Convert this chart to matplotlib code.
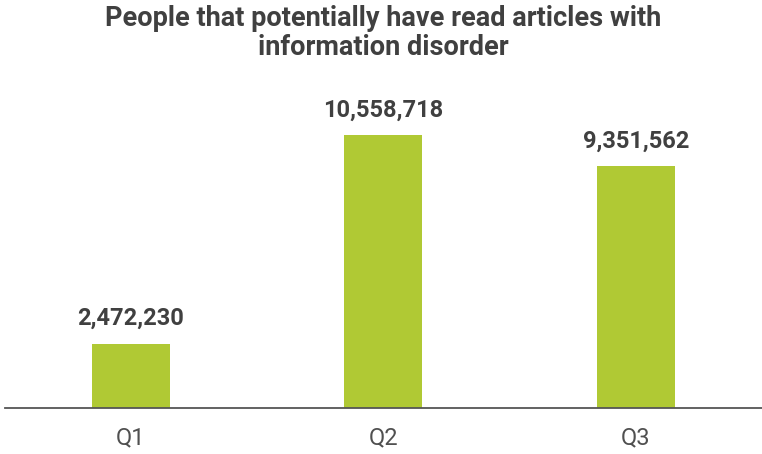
import matplotlib.pyplot as plt

categories = ["Q1", "Q2", "Q3"]
values = [2472230, 10558718, 9351562]

plt.rcParams['font.family'] = ['Roboto', 'DejaVu Sans']

fig = plt.figure(figsize=(7.62, 4.54), dpi=100)
ax = fig.add_axes([0.006, 0.1013, 0.994, 0.7225])

x = range(len(categories))
ax.bar(x, values, width=0.308, color="#B0C934")

# value labels above bars
for xi, v in zip(x, values):
    ax.annotate(f"{v:,}", (xi, v), xytext=(0, 10), textcoords="offset points",
                ha="center", va="bottom", fontsize=17, fontweight="bold", color="#404040")

ax.set_xlim(-0.5, 2.5)
ax.set_ylim(0, 12.7e6)
ax.set_xticks(list(x))
ax.set_xticklabels(categories, fontsize=17, color="#505050")
ax.tick_params(axis="x", length=0, pad=13)
ax.set_yticks([])

for side in ["top", "right", "left"]:
    ax.spines[side].set_visible(False)
ax.spines["bottom"].set_color("#555555")
ax.spines["bottom"].set_linewidth(1.3)

fig.text(0.503, 0.99, "People that potentially have read articles with\ninformation disorder",
         ha="center", va="top", fontsize=19.5, fontweight="bold", color="#404040",
         linespacing=1.1)

fig.savefig("out.png", dpi=100)
